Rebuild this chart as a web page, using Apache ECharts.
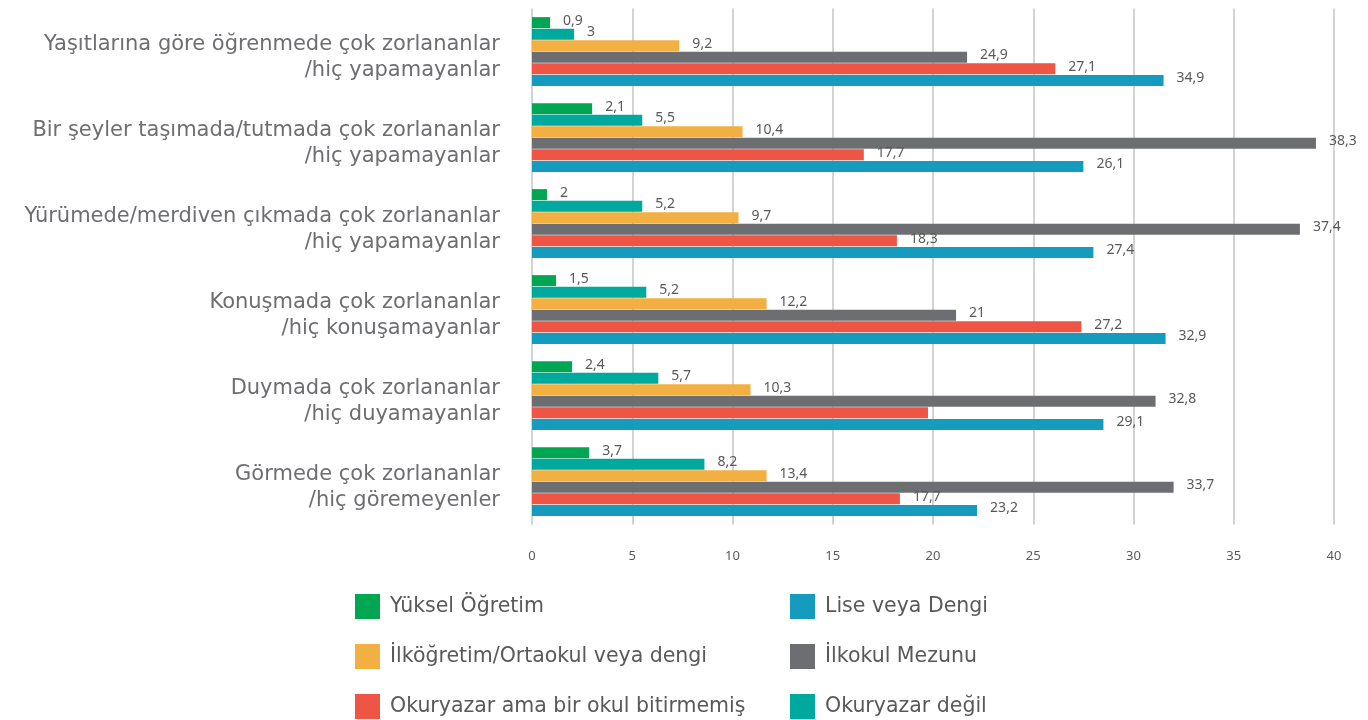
<!DOCTYPE html>
<html>
<head>
<meta charset="utf-8">
<script src="https://cdn.jsdelivr.net/npm/echarts@6/dist/echarts.min.js"></script>
<style>
html, body { margin: 0; padding: 0; background: #fff; }
#chart { width: 1368px; height: 720px; }
</style>
</head>
<body>
<div id="chart"></div>
<script>
var categories = [
    'Yaşıtlarına göre öğrenmede çok zorlananlar\n/hiç yapamayanlar',
    'Bir şeyler taşımada/tutmada çok zorlananlar\n/hiç yapamayanlar',
    'Yürümede/merdiven çıkmada çok zorlananlar\n/hiç yapamayanlar',
    'Konuşmada çok zorlananlar\n/hiç konuşamayanlar',
    'Duymada çok zorlananlar\n/hiç duyamayanlar',
    'Görmede çok zorlananlar\n/hiç göremeyenler'
];

// bar lengths as drawn in the picture
var yuksel = [0.9, 3.0, 0.75, 1.2, 2.0, 2.85];
var okuryazarDegil = [2.1, 5.5, 5.5, 5.7, 6.3, 8.6];
var ilkogretim = [7.35, 10.5, 10.3, 11.7, 10.9, 11.7];
var ilkokul = [21.7, 39.1, 38.3, 21.15, 31.1, 32.0];
var okuryazarAma = [26.1, 16.55, 18.2, 27.4, 19.75, 18.35];
var lise = [31.5, 27.5, 28.0, 31.6, 28.5, 22.2];

// value labels as printed
var yukselLbl = ['0,9', '2,1', '2', '1,5', '2,4', '3,7'];
var okuryazarDegilLbl = ['3', '5,5', '5,2', '5,2', '5,7', '8,2'];
var ilkogretimLbl = ['9,2', '10,4', '9,7', '12,2', '10,3', '13,4'];
var ilkokulLbl = ['24,9', '38,3', '37,4', '21', '32,8', '33,7'];
var okuryazarAmaLbl = ['27,1', '17,7', '18,3', '27,2', '', '17,7'];
var liseLbl = ['34,9', '26,1', '27,4', '32,9', '29,1', '23,2'];

var xTicks = [0, 5, 10, 15, 20, 25, 30, 35, 40];

var fontFam = '"Noto Sans", sans-serif';
var bigFont = '"DejaVu Sans", sans-serif';
var textGray = '#595959';

function barSeries(name, data, labels, color, z) {
    return {
        name: name,
        type: 'bar',
        data: data,
        z: z,
        barWidth: 11,
        barGap: '5%',
        itemStyle: { color: color },
        label: {
            show: true,
            position: 'right',
            distance: 13,
            offset: [0, -2],
            color: textGray,
            fontSize: 14,
            fontFamily: fontFam,
            formatter: function (p) {
                return labels[p.dataIndex];
            }
        }
    };
}

var legendText = { color: textGray, fontSize: 20.5, padding: [0, 0, 0, 5], fontFamily: bigFont };

var chart = echarts.init(document.getElementById('chart'));
var option = {
    animation: false,
    backgroundColor: '#fff',
    textStyle: { fontFamily: fontFam },
    grid: {
        top: 8.5,
        bottom: 195.5,
        left: 532,
        right: 34,
        containLabel: false
    },
    xAxis: {
        type: 'value',
        min: xTicks[0],
        max: xTicks[xTicks.length - 1],
        interval: 5,
        axisLine: { show: false },
        axisTick: { show: false },
        axisLabel: {
            color: textGray,
            fontSize: 13,
            margin: 25,
            fontFamily: fontFam
        },
        splitLine: { lineStyle: { color: '#c4c4c4', width: 1.5 } }
    },
    yAxis: {
        type: 'category',
        inverse: true,
        data: categories,
        axisLine: { show: false },
        axisTick: { show: false },
        axisLabel: {
            margin: 32,
            align: 'right',
            formatter: function (v) {
                var parts = v.split('\n');
                return '{s| }\n{t|' + parts[0] + '}\n{t|' + parts[1] + '}';
            },
            rich: {
                s: { fontSize: 4, lineHeight: 12 },
                t: { color: '#6d6e71', fontSize: 21, lineHeight: 26.5, fontFamily: bigFont, align: 'right' }
            }
        }
    },
    legend: [
        {
            orient: 'vertical',
            left: 355,
            top: 594,
            height: 126,
            padding: 0,
            itemWidth: 25,
            itemHeight: 25,
            itemGap: 25,
            icon: 'rect',
            textStyle: legendText,
            data: ['Yüksel Öğretim', 'İlköğretim/Ortaokul veya dengi', 'Okuryazar ama bir okul bitirmemiş']
        },
        {
            orient: 'vertical',
            left: 790,
            top: 594,
            height: 126,
            padding: 0,
            itemWidth: 25,
            itemHeight: 25,
            itemGap: 25,
            icon: 'rect',
            textStyle: legendText,
            data: ['Lise veya Dengi', 'İlkokul Mezunu', 'Okuryazar değil']
        }
    ],
    series: [
        barSeries('Yüksel Öğretim', yuksel, yukselLbl, '#00a651', 2),
        barSeries('Okuryazar değil', okuryazarDegil, okuryazarDegilLbl, '#00a99d', 3),
        barSeries('İlköğretim/Ortaokul veya dengi', ilkogretim, ilkogretimLbl, '#f3b042', 4),
        barSeries('İlkokul Mezunu', ilkokul, ilkokulLbl, '#6d6e71', 5),
        barSeries('Okuryazar ama bir okul bitirmemiş', okuryazarAma, okuryazarAmaLbl, '#ef5545', 6),
        barSeries('Lise veya Dengi', lise, liseLbl, '#149bbd', 7)
    ]
};
chart.setOption(option);
</script>
</body>
</html>
